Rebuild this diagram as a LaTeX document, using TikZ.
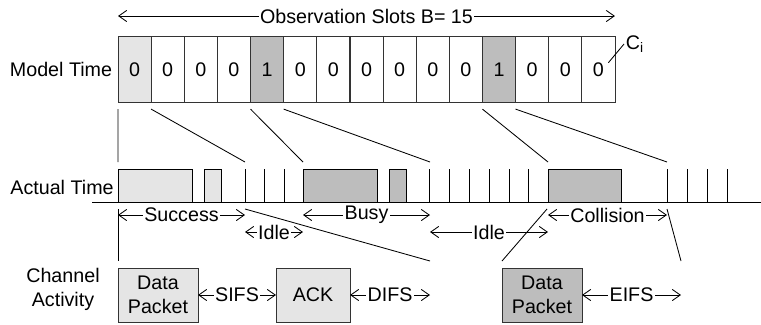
\documentclass[tikz,border=0pt]{standalone}
\usepackage{fontspec}
\setmainfont{Liberation Sans}
\usetikzlibrary{arrows.meta}
\definecolor{lite}{gray}{0.9}
\definecolor{dark}{gray}{0.74}
\tikzset{
  slot/.style={draw=black!80, minimum width=0.828cm, minimum height=1.65cm, inner sep=0pt, outer sep=0pt},
  pkt/.style={draw=black!80, minimum width=2cm, minimum height=1.35cm, inner sep=0pt, outer sep=0pt, align=center},
  lbl/.style={fill=white, inner sep=1pt},
  twoway/.style={arrows={Straight Barb[length=0.2cm,width=0.28cm]-Straight Barb[length=0.2cm,width=0.28cm]}},
}
\begin{document}
\begin{tikzpicture}[x=0.025cm, y=-0.025cm, line width=0.6pt, font=\fontsize{14}{17}\selectfont]
\useasboundingbox (0,0) rectangle (761,324);
% model time
\node at (61,69.7) {Model Time};
\foreach \v/\c [count=\i from 0] in {0/lite,0/white,0/white,0/white,1/dark,0/white,0/white,0/white,0/white,0/white,0/white,1/dark,0/white,0/white,0/white}
  \node[slot, fill=\c] (m\i) at ({134.57+33.13*\i},69.7) {\v};
\draw[twoway] (m0.north west |- 0,16) -- node[lbl]{Observation Slots B= 15} (m14.north east |- 0,16);
\node[anchor=west, inner sep=1pt] (ci) at (624,44) {C\textsubscript{i}};
\draw ([shift={(10,-7)}]m14.center) -- (ci.west);
% actual time
\node at (62,187) {Actual Time};
\draw (92,202) -- (761,202);
\draw[fill=lite] (118,169) rectangle (192,202);
\draw[fill=lite] (204,169) rectangle (221,202);
\draw[fill=dark] (303,169) rectangle (377,202);
\draw[fill=dark] (389,169) rectangle (406,202);
\draw[fill=dark] (548,169) rectangle (621,202);
\foreach \x in {245,264,284,429,449,469,489,509,528,667,687,707,727}
  \draw (\x,169) -- (\x,202);
\foreach \a/\b in {m0.south west/118, m0.south east/245, m4.south west/303, m4.south east/430, m11.south west/548, m11.south east/667}
  \draw ([yshift=-0.16cm]\a) -- (\b,162);
\draw[twoway] (118,215) -- node[lbl]{Success} (245,215);
\draw[twoway] (245,232) -- node[lbl]{Idle} (303,232);
\draw[twoway] (303,215) -- node[lbl]{Busy} (430,215);
\draw[twoway] (430,232) -- node[lbl]{Idle} (548,232);
\draw[twoway] (548,215) -- node[lbl]{Collision} (667,215);
\draw (118,209) -- (118,261);
\draw (245,209) -- (430,261);
\draw (547,209) -- (502,261);
\draw (667,209) -- (681,261);
% channel activity
\node[align=center] at (63,289) {Channel\\Activity};
\node[pkt, fill=lite] (dp1) at (158,295) {Data\\Packet};
\node[pkt, fill=lite, minimum width=1.85cm] (ack) at (313,295) {ACK};
\node[pkt, fill=dark] (dp2) at (542,295) {Data\\Packet};
\coordinate (difsend) at (430,295);
\coordinate (eifsend) at (681,295);
\draw[twoway] (dp1) -- node[lbl]{SIFS} (ack);
\draw[twoway] (ack) -- node[lbl]{DIFS} (difsend);
\draw[twoway] (dp2) -- node[lbl]{EIFS} (eifsend);
\end{tikzpicture}
\end{document}
